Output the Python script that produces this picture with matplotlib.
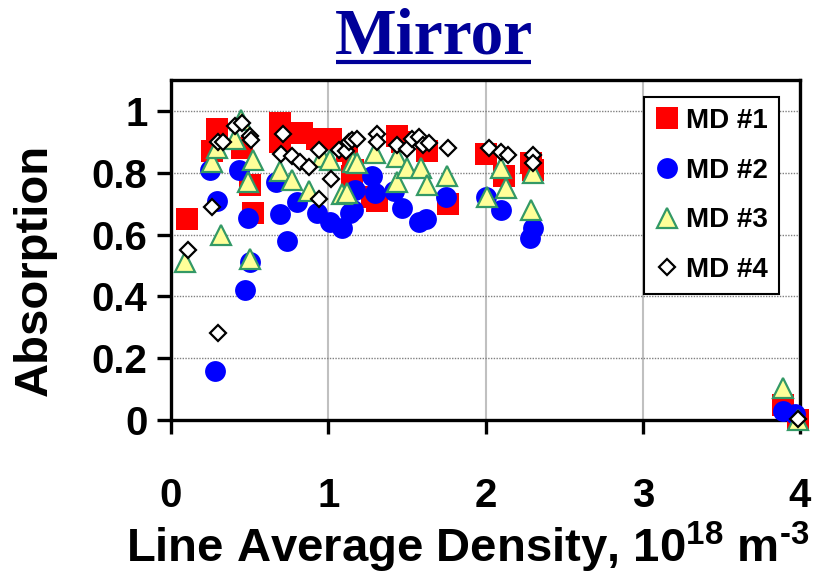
import matplotlib
matplotlib.use('Agg')
import matplotlib.pyplot as plt
from matplotlib.lines import Line2D

plt.rcParams['font.family'] = ['Liberation Sans', 'DejaVu Sans']
plt.rcParams['font.weight'] = 'bold'
plt.rcParams['mathtext.fontset'] = 'custom'
plt.rcParams['mathtext.rm'] = 'Liberation Sans:bold'
plt.rcParams['mathtext.bf'] = 'Liberation Sans:bold'
plt.rcParams['mathtext.it'] = 'Liberation Sans:bold'
plt.rcParams['mathtext.default'] = 'regular'

# ---------------- data ----------------
title = "Mirror"
xlabel = r"Line Average Density, 10$^{18}$ m$^{\text{-}3}$"
ylabel = "Absorption"
series_names = ["MD #1", "MD #2", "MD #3", "MD #4"]

xticks = [0, 1, 2, 3, 4]
xtick_labels = ["0", "1", "2", "3", "4"]
yticks = [0, 0.2, 0.4, 0.6, 0.8, 1.0]
ytick_labels = ["0", "0.2", "0.4", "0.6", "0.8", "1"]

md1_x = [0.10, 0.26, 0.29, 0.45, 0.50, 0.52, 0.69, 0.69, 0.83, 0.93, 1.02, 1.12,
         1.15, 1.16, 1.28, 1.31, 1.44, 1.47, 1.63, 1.76, 2.00, 2.12, 2.29, 2.30,
         3.89, 3.99]
md1_y = [0.65, 0.87, 0.94, 0.88, 0.76, 0.67, 0.96, 0.90, 0.93, 0.91, 0.91, 0.87,
         0.79, 0.81, 0.72, 0.71, 0.92, 0.90, 0.87, 0.70, 0.86, 0.79, 0.83, 0.81,
         0.05, 0.00]

md2_x = [0.25, 0.29, 0.28, 0.43, 0.47, 0.50, 0.49, 0.67, 0.69, 0.74, 0.80, 0.93,
         1.01, 1.09, 1.14, 1.16, 1.17, 1.28, 1.30, 1.42, 1.47, 1.58, 1.62, 1.75,
         2.00, 2.10, 2.28, 2.30, 3.89, 3.97]
md2_y = [0.81, 0.71, 0.16, 0.81, 0.42, 0.51, 0.655, 0.77, 0.668, 0.578, 0.706, 0.67,
         0.64, 0.62, 0.67, 0.68, 0.745, 0.79, 0.735, 0.74, 0.687, 0.64, 0.65, 0.72,
         0.72, 0.68, 0.59, 0.62, 0.03, 0.02]

md3_x = [0.09, 0.26, 0.29, 0.32, 0.41, 0.445, 0.49, 0.52, 0.50, 0.69, 0.77, 0.88,
         0.96, 1.01, 1.09, 1.12, 1.16, 1.18, 1.30, 1.44, 1.44, 1.50, 1.59, 1.63,
         1.755, 2.01, 2.10, 2.13, 2.29, 2.30, 3.89, 3.99]
md3_y = [0.51, 0.835, 0.88, 0.60, 0.91, 0.97, 0.77, 0.84, 0.52, 0.806, 0.778, 0.74,
         0.85, 0.84, 0.73, 0.735, 0.835, 0.83, 0.865, 0.77, 0.85, 0.815, 0.815, 0.76,
         0.79, 0.72, 0.815, 0.75, 0.68, 0.80, 0.105, 0.0]

md4_x = [0.11, 0.26, 0.30, 0.30, 0.33, 0.41, 0.45, 0.50, 0.51, 0.71, 0.70, 0.77,
         0.82, 0.88, 0.94, 0.94, 1.02, 1.07, 1.11, 1.13, 1.15, 1.18, 1.31, 1.31,
         1.44, 1.50, 1.53, 1.58, 1.60, 1.64, 1.76, 2.02, 2.10, 2.14, 2.30, 2.30,
         3.99]
md4_y = [0.55, 0.69, 0.28, 0.90, 0.90, 0.95, 0.96, 0.92, 0.905, 0.925, 0.86, 0.855,
         0.835, 0.82, 0.875, 0.715, 0.78, 0.875, 0.87, 0.90, 0.905, 0.91, 0.925, 0.90,
         0.89, 0.877, 0.91, 0.915, 0.89, 0.897, 0.88, 0.88, 0.867, 0.857, 0.857, 0.83,
         0.003]

# ---------------- figure ----------------
fig = plt.figure(figsize=(8.19, 5.75), dpi=100)
ax = fig.add_axes([171/819, 1 - 420/575, (800-171)/819, (420-80)/575])
ax.set_xlim(0, 4)
ax.set_ylim(0, 1.1)

ax.plot(md1_x, md1_y, ls='none', marker='s', ms=16, mfc='#FF0000', mec='#FF0000',
        mew=0, clip_on=False, zorder=3, label=series_names[0])
ax.plot(md2_x, md2_y, ls='none', marker='o', ms=15, mfc='#0000FF', mec='#0000FF',
        mew=0, clip_on=False, zorder=4, label=series_names[1])
ax.plot(md3_x, md3_y, ls='none', marker='^', ms=14, mfc='#FFFF99', mec='#339966',
        mew=1.6, clip_on=False, zorder=5, label=series_names[2])
ax.plot(md4_x, md4_y, ls='none', marker='D', ms=8.4, mfc='white', mec='black',
        mew=1.6, clip_on=False, zorder=6, label=series_names[3])

ax.set_xticks(xticks)
ax.set_xticklabels(xtick_labels)
ax.set_yticks(yticks)
ax.set_yticklabels(ytick_labels)

ax.tick_params(axis='both', direction='out', length=10, width=2.4, labelsize=29)
ax.tick_params(axis='x', pad=31)
ax.tick_params(axis='y', pad=7)
for lab in ax.get_xticklabels() + ax.get_yticklabels():
    lab.set_fontweight('bold')

for sp in ax.spines.values():
    sp.set_linewidth(2.4)
    sp.set_color('black')

ax.set_axisbelow(True)
ax.yaxis.grid(True, linestyle=(0, (1, 1)), color='#808080', lw=1.0)
ax.xaxis.grid(True, linestyle='-', color='#C0C0C0', lw=1.5)

ax.set_xlabel(xlabel, fontsize=34, fontweight='bold', va='baseline')
ax.xaxis.set_label_coords(0.4725, -0.418)
ax.set_ylabel(ylabel, fontsize=34, fontweight='bold')
ax.yaxis.set_label_coords(-0.181, 0.44)

leg = ax.legend(loc='upper right', bbox_to_anchor=(0.9666, 0.95), fontsize=20,
                frameon=True, fancybox=False, edgecolor='black', framealpha=1,
                numpoints=1, handlelength=0.8, handletextpad=0.3,
                borderpad=0.4, labelspacing=0.85, borderaxespad=0)
leg.get_frame().set_linewidth(1.5)
leg.set_zorder(10)
for t in leg.get_texts():
    t.set_fontweight('bold')

# title with underline
fig.text(0.5295, 1 - 53/575, title, ha='center', va='baseline',
         fontsize=47, fontweight='bold', color='#000099',
         family=['Liberation Serif', 'DejaVu Serif'])
fig.add_artist(Line2D([336/819, 531/819], [1 - 62/575, 1 - 62/575],
                      color='#000099', lw=3.0, solid_capstyle='butt'))

fig.savefig('out.png', dpi=100)
